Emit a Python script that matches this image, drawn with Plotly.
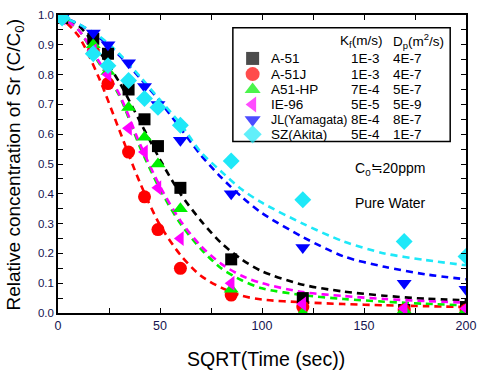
import plotly.graph_objects as go

# ---------------- data ----------------
x_pts = [2.0, 17.3, 24.5, 34.6, 42.4, 49.0, 60.0, 84.9, 120.0, 169.7, 200.0]

a51 = [0.99, 0.92, 0.87, 0.75, 0.65, 0.56, 0.42, 0.18, 0.05, 0.01, 0.02]
a51j = [0.99, 0.88, 0.77, 0.54, 0.39, 0.28, 0.15, 0.06, 0.02, 0.01, 0.01]
a51hp = [0.99, 0.90, 0.81, 0.69, 0.59, 0.50, 0.35, 0.08, 0.00, 0.01, 0.01]
ie96 = [0.99, 0.88, 0.80, 0.62, 0.54, 0.42, 0.25, 0.10, 0.03, 0.015, 0.015]
jl = [0.99, 0.94, 0.90, 0.84, 0.76, 0.70, 0.58, 0.40, 0.22, 0.10, 0.08]
sz = [0.99, 0.87, 0.83, 0.78, 0.72, 0.69, 0.63, 0.51, 0.38, 0.24, 0.19]

x_fit = [0, 10, 20, 30, 40, 50, 60, 70, 80, 90, 100, 120, 140, 160, 180, 200]
fit_a51 = [1.0, 0.965, 0.88, 0.775, 0.645, 0.515, 0.40, 0.31, 0.235, 0.18, 0.14, 0.095, 0.072, 0.058, 0.048, 0.043]
fit_a51j = [1.0, 0.93, 0.79, 0.615, 0.44, 0.295, 0.195, 0.125, 0.085, 0.058, 0.045, 0.036, 0.030, 0.026, 0.023, 0.020]
fit_a51hp = [1.0, 0.95, 0.84, 0.73, 0.56, 0.415, 0.30, 0.215, 0.15, 0.11, 0.083, 0.060, 0.047, 0.038, 0.031, 0.026]
fit_ie96 = [1.0, 0.95, 0.845, 0.735, 0.57, 0.425, 0.31, 0.225, 0.165, 0.125, 0.100, 0.070, 0.057, 0.047, 0.040, 0.035]
fit_jl = [1.0, 0.97, 0.925, 0.865, 0.79, 0.71, 0.62, 0.53, 0.455, 0.39, 0.335, 0.255, 0.19, 0.155, 0.13, 0.113]
fit_sz = [1.0, 0.97, 0.93, 0.87, 0.795, 0.715, 0.635, 0.54, 0.475, 0.415, 0.37, 0.30, 0.24, 0.20, 0.178, 0.16]

names = ["A-51", "A-51J", "A51-HP", "IE-96", "JL(Yamagata)", "SZ(Akita)"]
kf_labels = ["1E-3", "1E-3", "7E-4", "5E-5", "8E-4", "5E-4"]
dp_labels = ["4E-7", "4E-7", "5E-7", "5E-9", "8E-7", "1E-7"]

series = [a51, a51j, a51hp, ie96, jl, sz]
fits = [fit_a51, fit_a51j, fit_a51hp, fit_ie96, fit_jl, fit_sz]

# ---------------- style ----------------
colors = ["#000000", "#ff0000", "#00f000", "#ff00ff", "#0000ff", "#1ee8f8"]
symbols = ["square", "circle", "triangle-up", "triangle-left", "triangle-down", "diamond"]
sizes = [12, 13, 13, 13, 13, 13]
FONT = "Liberation Sans, Arial, sans-serif"

fig = go.Figure()

for f, c in zip(fits, colors):
    fig.add_trace(go.Scatter(x=x_fit, y=f, mode="lines",
                             line=dict(color=c, width=2.6, dash="7px,5px", shape="spline", smoothing=0.8),
                             showlegend=False, hoverinfo="skip"))

for s, c, sym, sz_ in zip(series, colors, symbols, sizes):
    fig.add_trace(go.Scatter(x=x_pts, y=s, mode="markers",
                             marker=dict(color=c, symbol=sym, size=sz_, line=dict(width=0)),
                             showlegend=False))

# ---- legend box (manual) ----
L, R, T, B = 58, 471, 9, 313
def px(x): return (x - L) / (R - L)
def py(y): return (B - y) / (B - T)

row_y = [53.3, 69.3, 85.0, 100.3, 115.8, 130.7]
fig.add_trace(go.Scatter(x=[px(255)] * 6, y=[py(v) for v in row_y], mode="markers",
                         xaxis="x2", yaxis="y2",
                         marker=dict(color=colors, symbol=symbols, size=[13, 14, 14, 14, 14, 14], line=dict(width=0)),
                         showlegend=False, hoverinfo="skip"))

fig.add_shape(type="rect", xref="paper", yref="paper",
              x0=px(235), x1=px(455), y0=py(138), y1=py(22),
              line=dict(color="black", width=1.5), fillcolor="white", layer="below")

ann = []
tf = dict(family=FONT, size=13.5, color="black")
ann.append(dict(x=px(365), y=py(36), text="K<sub>f</sub>(m/s)", showarrow=False,
                xref="paper", yref="paper", xanchor="center", yanchor="middle", font=tf))
ann.append(dict(x=px(423), y=py(36), text="D<sub>p</sub>(m<sup>2</sup>/s)", showarrow=False,
                xref="paper", yref="paper", xanchor="center", yanchor="middle", font=tf))
for i in range(6):
    nf = dict(tf)
    if len(names[i]) > 10:
        nf["size"] = 12.3
    ann.append(dict(x=px(272), y=py(row_y[i]), text=names[i], showarrow=False,
                    xref="paper", yref="paper", xanchor="left", yanchor="middle", font=nf))
    ann.append(dict(x=px(369), y=py(row_y[i]), text=kf_labels[i], showarrow=False,
                    xref="paper", yref="paper", xanchor="center", yanchor="middle", font=tf))
    ann.append(dict(x=px(412), y=py(row_y[i]), text=dp_labels[i], showarrow=False,
                    xref="paper", yref="paper", xanchor="center", yanchor="middle", font=tf))
bf = dict(family=FONT, size=14, color="black")
ann.append(dict(x=px(357), y=py(166), text="C<sub>0</sub>≒20ppm", showarrow=False,
                xref="paper", yref="paper", xanchor="left", yanchor="middle", font=bf))
ann.append(dict(x=px(357), y=py(201), text="Pure Water", showarrow=False,
                xref="paper", yref="paper", xanchor="left", yanchor="middle", font=bf))
# axis titles
ann.append(dict(x=px(269), y=py(360), text="SQRT(Time (sec))", showarrow=False,
                xref="paper", yref="paper", xanchor="center", yanchor="middle",
                font=dict(family=FONT, size=19.5, color="black")))
ann.append(dict(x=px(14), y=py(162), text="Relative concentration of Sr (C/C<sub>0</sub>)", showarrow=False,
                xref="paper", yref="paper", xanchor="center", yanchor="middle", textangle=-90,
                font=dict(family=FONT, size=19, color="black")))

axis_common = dict(showgrid=False, zeroline=False, showline=True, linecolor="black", linewidth=1.5,
                   mirror="ticks", ticks="inside", ticklen=5, tickwidth=1.2, tickcolor="black")

fig.update_layout(
    width=485, height=371,
    margin=dict(l=58, r=14, t=9, b=58),
    paper_bgcolor="white", plot_bgcolor="white",
    font=dict(family=FONT, color="black"),
    annotations=ann,
    xaxis=dict(range=[0, 200], dtick=50, tick0=0,
               minor=dict(dtick=25, ticks="inside", ticklen=5, tickcolor="black"),
               tickfont=dict(size=12.5, color="#141450"),
               **axis_common),
    yaxis=dict(range=[0, 1], dtick=0.1, tick0=0, tickformat=".1f",
               minor=dict(dtick=0.05, ticks="inside", ticklen=5, tickcolor="black"),
               tickfont=dict(size=11.5, color="#141450"),
               **axis_common),
    xaxis2=dict(overlaying="x", range=[0, 1], visible=False),
    yaxis2=dict(overlaying="y", range=[0, 1], visible=False),
)

fig.write_html("out.html", config={"displayModeBar": False},
               post_script="document.body.style.margin='0';document.body.style.overflow='hidden';")
